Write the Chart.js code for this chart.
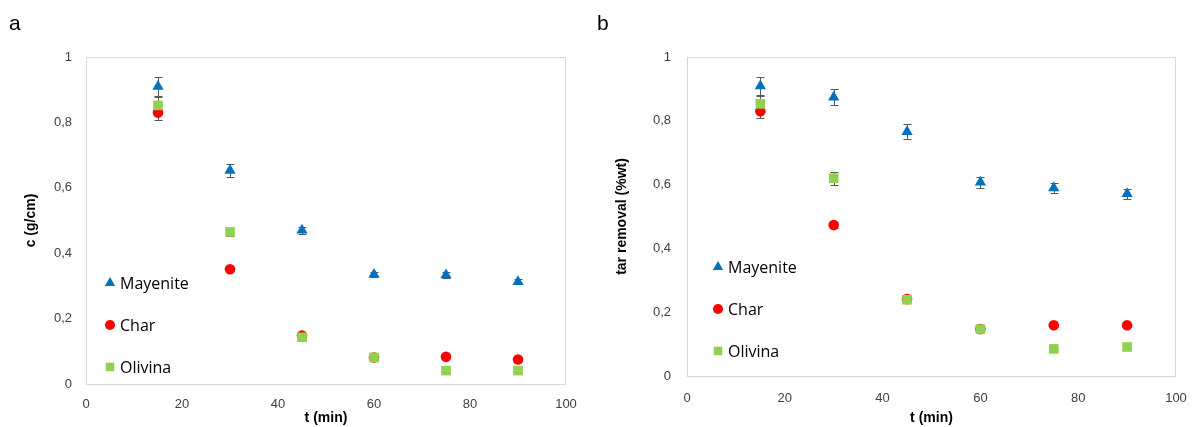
<!DOCTYPE html>
<html>
<head>
<meta charset="utf-8">
<script src="https://cdn.jsdelivr.net/npm/chart.js@4/dist/chart.umd.min.js"></script>
<style>
    html, body { margin: 0; padding: 0; background: #fff; }
    #wrap { position: relative; width: 1193px; height: 427px; }
    .panel { position: absolute; top: 0; height: 427px; }
    #panelA { left: 0; width: 590px; }
    #panelB { left: 590px; width: 603px; }
    .tag { position: absolute; top: 11px; font: 21px "Liberation Sans", Arial, sans-serif; color: #000; }
</style>
</head>
<body>
<div id="wrap">
    <div class="panel" id="panelA"><canvas id="chartA"></canvas></div>
    <div class="panel" id="panelB"><canvas id="chartB"></canvas></div>
    <div class="tag" style="left:9px">a</div>
    <div class="tag" style="left:597px">b</div>
</div>
<script>
// tiempos de muestreo (min)
const times = [15, 30, 45, 60, 75, 90];
const seriesNames = ['Mayenite', 'Char', 'Olivina'];

// panel a: c (g/cm)
const concMayenite = [0.910, 0.653, 0.470, 0.335, 0.333, 0.313];
const concMayeniteErr = [0.028, 0.019, 0.010, 0.008, 0.008, 0.008];
const concChar = [0.830, 0.351, 0.148, 0.081, 0.083, 0.075];
const concCharErr = [0.022, 0.006, 0.005, 0.004, 0.004, 0.004];
const concOlivina = [0.852, 0.465, 0.143, 0.081, 0.041, 0.041];
const concOlivinaErr = [0.025, 0.012, 0.006, 0.004, 0.004, 0.004];

// panel b: tar removal (%wt)
const tarMayenite = [0.909, 0.874, 0.766, 0.607, 0.589, 0.571];
const tarMayeniteErr = [0.029, 0.026, 0.023, 0.018, 0.015, 0.015];
const tarChar = [0.830, 0.473, 0.241, 0.147, 0.159, 0.159];
const tarCharErr = [0.022, 0.010, 0.006, 0.005, 0.004, 0.004];
const tarOlivina = [0.853, 0.620, 0.239, 0.147, 0.085, 0.091];
const tarOlivinaErr = [0.025, 0.020, 0.008, 0.005, 0.004, 0.004];

const xTickStep = 20;
const yTickStep = 0.2;

const FONT = '"Liberation Sans", Arial, sans-serif';
const styles = [
    { color: '#0070C0', pointStyle: 'triangle', radius: 6.5, legendRadius: 6, order: 2 },
    { color: '#FF0000', pointStyle: 'circle', radius: 5.3, legendRadius: 5, order: 1 },
    { color: '#92D050', pointStyle: 'rect', radius: 6.8, legendRadius: 6, order: 0 }
];

function toPoints(values, errs) {
    return values.map((v, i) => ({ x: times[i], y: v, err: errs[i] }));
}

// barras de error, dibujadas bajo los marcadores
const errorBars = {
    id: 'errorBars',
    beforeDatasetsDraw(chart) {
        const ctx = chart.ctx;
        const xs = chart.scales.x, ys = chart.scales.y;
        ctx.save();
        ctx.strokeStyle = '#595959';
        ctx.lineWidth = 1;
        chart.data.datasets.forEach(ds => {
            ds.data.forEach(p => {
                const px = Math.round(xs.getPixelForValue(p.x)) + 0.5;
                const top = Math.round(ys.getPixelForValue(p.y + p.err)) + 0.5;
                const bot = Math.round(ys.getPixelForValue(p.y - p.err)) + 0.5;
                ctx.beginPath();
                ctx.moveTo(px, top); ctx.lineTo(px, bot);
                ctx.moveTo(px - 4, top); ctx.lineTo(px + 4, top);
                ctx.moveTo(px - 4, bot); ctx.lineTo(px + 4, bot);
                ctx.stroke();
            });
        });
        ctx.restore();
    }
};

// marco del área de trazado y leyenda interior
const frameLegend = {
    id: 'frameLegend',
    afterDraw(chart, args, opts) {
        const ctx = chart.ctx;
        const a = chart.chartArea;
        ctx.save();
        ctx.strokeStyle = '#d9d9d9';
        ctx.lineWidth = 1;
        ctx.strokeRect(a.left + 0.5, a.top + 0.5, a.right - a.left - 1, a.bottom - a.top);
        ctx.font = '16px "Open Sans", ' + FONT;
        ctx.textBaseline = 'middle';
        chart.data.datasets.forEach((ds, i) => {
            const y = opts.top + i * opts.gap;
            const x = a.left + opts.left;
            const s = styles[i];
            ctx.fillStyle = s.color;
            Chart.helpers.drawPoint(ctx, { pointStyle: s.pointStyle, radius: s.legendRadius, borderWidth: 0 }, x, y);
            ctx.fillStyle = '#000';
            ctx.fillText(ds.label, x + 10, y + 1);
        });
        ctx.restore();
    }
};

function makeChart(id, sets, yTitle, lay) {
    const datasets = sets.map((s, i) => ({
        label: seriesNames[i],
        data: toPoints(s[0], s[1]),
        backgroundColor: styles[i].color,
        borderColor: styles[i].color,
        borderWidth: 0,
        pointStyle: styles[i].pointStyle,
        pointRadius: styles[i].radius,
        pointHoverRadius: styles[i].radius,
        order: styles[i].order
    }));
    return new Chart(document.getElementById(id), {
        type: 'scatter',
        data: { datasets },
        plugins: [errorBars, frameLegend],
        options: {
            responsive: true,
            maintainAspectRatio: false,
            animation: false,
            layout: { padding: { left: 0, top: 57, right: lay.right, bottom: 0 } },
            plugins: {
                legend: { display: false },
                tooltip: { enabled: false },
                frameLegend: lay.legend
            },
            scales: {
                x: {
                    min: 0, max: 100,
                    afterFit: s => { s.height = lay.xHeight; s.paddingLeft = 0; s.paddingRight = 0; },
                    ticks: { stepSize: xTickStep, padding: lay.xPad, color: '#404040', font: { family: FONT, size: 13 } },
                    grid: { display: false, drawTicks: false },
                    border: { display: false },
                    title: { display: true, text: 't (min)', color: '#000', padding: { top: 0, bottom: lay.xTitlePad }, font: { family: FONT, size: 14, weight: 'bold' } }
                },
                y: {
                    min: 0, max: 1,
                    afterFit: s => { s.width = lay.yWidth; s.paddingTop = 0; s.paddingBottom = 0; },
                    ticks: {
                        stepSize: yTickStep, padding: lay.yPad, color: '#404040',
                        font: { family: FONT, size: 13 },
                        callback: v => String(Number(v.toFixed(1))).replace('.', ',')
                    },
                    grid: { display: false, drawTicks: false },
                    border: { display: false },
                    title: { display: true, text: yTitle, color: '#000', padding: { top: lay.yTitlePad, bottom: 0 }, font: { family: FONT, size: 14, weight: 'bold' } }
                }
            }
        }
    });
}

makeChart('chartA', [[concMayenite, concMayeniteErr], [concChar, concCharErr], [concOlivina, concOlivinaErr]], 'c (g/cm)', {
    right: 24, xHeight: 43, yWidth: 86, xPad: 13, yPad: 14, xTitlePad: 0, yTitlePad: 23,
    legend: { left: 24, top: 283, gap: 42 }
});
makeChart('chartB', [[tarMayenite, tarMayeniteErr], [tarChar, tarCharErr], [tarOlivina, tarOlivinaErr]], 'tar removal (%wt)', {
    right: 17, xHeight: 51, yWidth: 97, xPad: 15, yPad: 16, xTitlePad: 0, yTitlePad: 24,
    legend: { left: 31, top: 267, gap: 42 }
});
</script>
</body>
</html>
